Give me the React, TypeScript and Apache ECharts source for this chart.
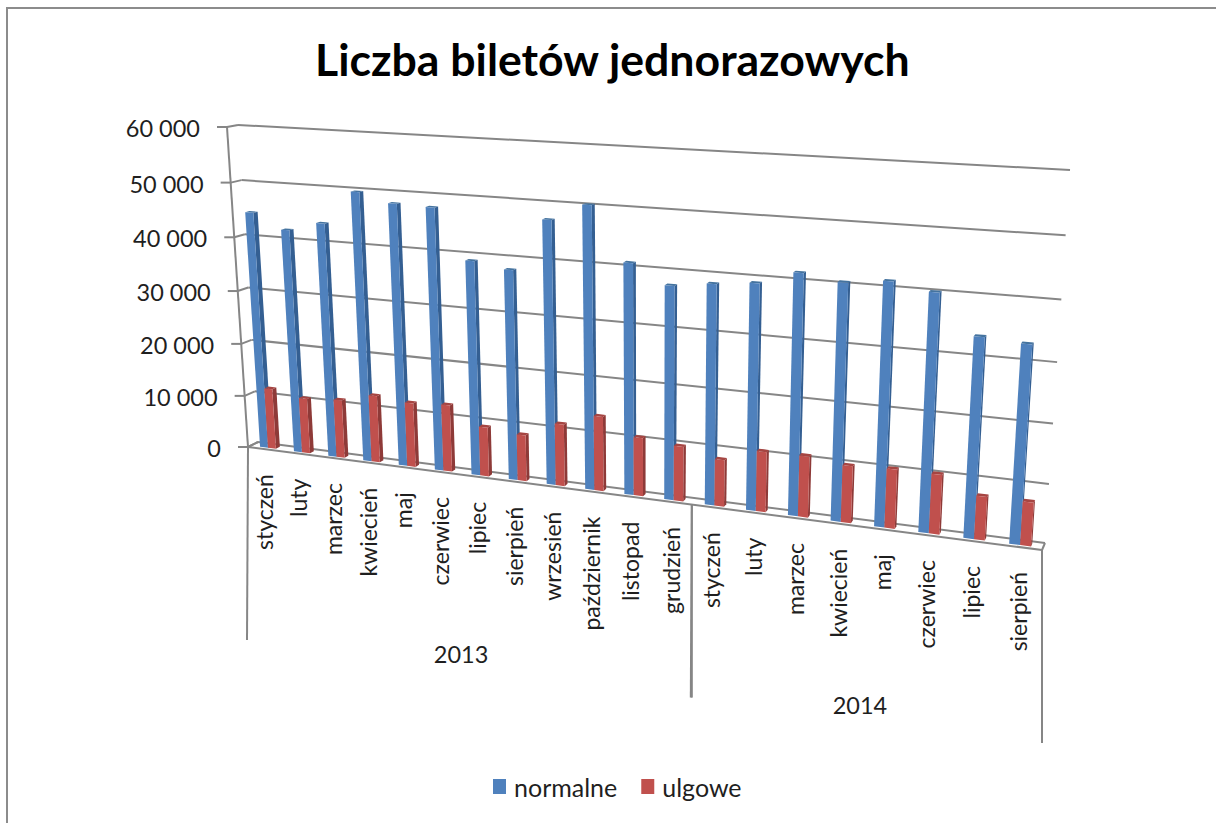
import React, { useEffect, useRef } from "react";
import * as echarts from "echarts";

const titleText = "Liczba biletów jednorazowych";
const months = ["styczeń","luty","marzec","kwiecień","maj","czerwiec","lipiec","sierpień","wrzesień","październik","listopad","grudzień","styczeń","luty","marzec","kwiecień","maj","czerwiec","lipiec","sierpień"];
const years = ["2013","2014"];
const yearSpans = [[0,12],[12,20]];
const normalne = [44600,41900,43600,49700,48100,47900,39000,38000,47200,50200,40900,37600,38500,39200,41500,40500,41300,40100,33600,33100];
const ulgowe = [11600,10500,11000,12600,12000,12400,9100,8500,11300,13500,10500,9800,8300,10600,10700,9900,10200,10200,7400,7400];
const yTicks = [0,10000,20000,30000,40000,50000,60000];
const yTickLabels = ["0","10 000","20 000","30 000","40 000","50 000","60 000"];

type Pt = [number, number];
// unit square (s along the categories, t up the value axis) -> screen, for a quad of corners
function quad(bl: Pt, br: Pt, tr: Pt, tl: Pt) {
  const [x0,y0]=bl,[x1,y1]=br,[x2,y2]=tr,[x3,y3]=tl;
  const dx1=x1-x2,dx2=x3-x2,sx=x0-x1+x2-x3;
  const dy1=y1-y2,dy2=y3-y2,sy=y0-y1+y2-y3;
  const den=dx1*dy2-dx2*dy1;
  const g=(sx*dy2-dx2*sy)/den,h=(dx1*sy-sx*dy1)/den;
  const a=x1-x0+g*x1,b=x3-x0+h*x3,c=x0;
  const d=y1-y0+g*y1,e=y3-y0+h*y3,f=y0;
  return (s:number,t:number):Pt=>{
    const w=g*s+h*t+1;
    return [(a*s+b*t+c)/w,(d*s+e*t+f)/w];
  };
}
const backWall = quad([258,442],[1045,543],[1070,170],[238,125]);
const frontWall = quad([248,447],[1042,550],[1066,174],[227,127]);
const project = (s:number,t:number,depth:number):Pt=>{
  const a=backWall(s,t),b=frontWall(s,t);
  return [a[0]+(b[0]-a[0])*depth,a[1]+(b[1]-a[1])*depth];
};
const unit = (params:any, p:number[]):Pt=>{
  const c=params.coordSys;
  return [(p[0]-c.x)/c.width,(c.y+c.height-p[1])/c.height];
};
const GRID="#868686", INK="#1f1f1f", FONT="Lato";
const BAR_FRONT=0.72, BAR_BACK=0.32, BAR_W=0.235/20, BAR_SHIFT=0.0006;

const line=(a:Pt,b:Pt,w=2)=>({type:"line",shape:{x1:a[0],y1:a[1],x2:b[0],y2:b[1]},style:{stroke:GRID,lineWidth:w,fill:null}});
const poly=(pts:Pt[],fill:string)=>({type:"polygon",shape:{points:pts},style:{fill,stroke:null}});

function barRenderer(offset:number, front:string, side:string, top:string){
  return (params:any, api:any)=>{
    const [s,t]=unit(params,api.coord([api.value(0),api.value(1)]));
    const s0=s+BAR_SHIFT+offset*BAR_W, s1=s0+BAR_W;
    const P=(u:number,v:number,d:number)=>project(u,v,d);
    return {type:"group",children:[
      poly([P(s1,0,BAR_FRONT),P(s1,t,BAR_FRONT),P(s1,t,BAR_BACK),P(s1,0,BAR_BACK)],side),
      poly([P(s0,t,BAR_FRONT),P(s1,t,BAR_FRONT),P(s1,t,BAR_BACK),P(s0,t,BAR_BACK)],top),
      poly([P(s0,0,BAR_FRONT),P(s1,0,BAR_FRONT),P(s1,t,BAR_FRONT),P(s0,t,BAR_FRONT)],front),
    ]};
  };
}

export default function App(){
  const ref=useRef<HTMLDivElement>(null);
  useEffect(()=>{
    const chart=echarts.init(ref.current!,undefined,{renderer:"svg"});
    chart.setOption({
      animation:false,
      backgroundColor:"#ffffff",
      title:{text:titleText,left:310,top:31,textStyle:{fontFamily:FONT,fontWeight:"bold",fontSize:44.6,color:"#000000"}},
      legend:{data:["normalne","ulgowe"],left:488,top:769,icon:"rect",itemWidth:13,itemHeight:15,itemGap:24,
        textStyle:{fontFamily:FONT,fontSize:25,color:INK,padding:[0,0,0,3]}},
      grid:{left:248,right:174,top:127,bottom:376},
      xAxis:{type:"category",data:months.map((m,i)=>(i<12?years[0]:years[1])+" "+m),show:false},
      yAxis:{type:"value",min:0,max:60000,interval:10000,show:false},
      graphic:[{type:"polyline",shape:{points:[[7,823],[7,8],[1216,8]]},style:{stroke:"#8c8c8c",lineWidth:2,fill:null}}],
      series:[
        {type:"custom",name:"axis",silent:true,clip:false,z:1,data:yTicks.map((v,i)=>[0,v,i]),
          renderItem:(params:any,api:any)=>{
            const [,t]=unit(params,api.coord([0,api.value(1)]));
            const f=project(0,t,1),b=project(0,t,0),r=project(1,t,0);
            return {type:"group",children:[
              line(b,r),line(f,b),line([f[0]-10,f[1]],f),
              {type:"text",style:{text:yTickLabels[api.value(2)],x:f[0]-27,y:f[1]+1,textAlign:"right",textVerticalAlign:"middle",fontFamily:FONT,fontSize:23.5,fill:INK}},
            ]};
          }},
        {type:"custom",name:"frame",silent:true,clip:false,z:1,data:[[0,0]],
          renderItem:()=>{
            const fl=project(0,0,1),fr=project(1,0,1),bl=project(0,0,0),br=project(1,0,0),tl=project(0,1,1);
            return {type:"group",children:[line(fl,tl),line(fl,fr),line(fr,br),line(bl,fl)]};
          }},
        {type:"custom",name:"normalne",clip:false,z:2,itemStyle:{color:"#4f81bd"},data:normalne.map((v,i)=>[i,v]),
          encode:{x:0,y:1},renderItem:barRenderer(-1,"#4f81bd","#345f92","#44739f")},
        {type:"custom",name:"ulgowe",clip:false,z:3,itemStyle:{color:"#c0504d"},data:ulgowe.map((v,i)=>[i,v]),
          encode:{x:0,y:1},renderItem:barRenderer(0,"#c0504d","#8e3a38","#a64542")},
        {type:"custom",name:"months",silent:true,clip:false,z:2,data:months.map((_,i)=>[i,0]),
          renderItem:(params:any,api:any)=>{
            const i=api.value(0);
            const [s]=unit(params,api.coord([i,0]));
            const p=project(s,0,1);
            return {type:"text",x:p[0]-1,y:p[1]+25,rotation:Math.PI/2,style:{text:months[i],textAlign:"right",textVerticalAlign:"middle",fontFamily:FONT,fontSize:23,fill:INK}};
          }},
        {type:"custom",name:"years",silent:true,clip:false,z:2,data:yearSpans.map((sp,i)=>[sp[0],i]),
          renderItem:(_:any,api:any)=>{
            const i=api.value(1);
            const [a,b]=yearSpans[i];
            const pa=project(a/20,0,1),pb=project(b/20,0,1);
            const children:any[]=[
              {type:"text",style:{text:years[i],x:pa[0]+(pb[0]-pa[0])*0.48,y:(pa[1]+pb[1])/2+178,textAlign:"center",textVerticalAlign:"middle",fontFamily:FONT,fontSize:23.5,fill:INK}},
              line(pa,[pa[0]-1,pa[1]+193]),line(pb,[pb[0],pb[1]+193]),
            ];
            return {type:"group",children};
          }},
      ],
    });
    return ()=>chart.dispose();
  },[]);
  return <div ref={ref} style={{position:"fixed",left:0,top:0,width:1216,height:823}}/>;
}
